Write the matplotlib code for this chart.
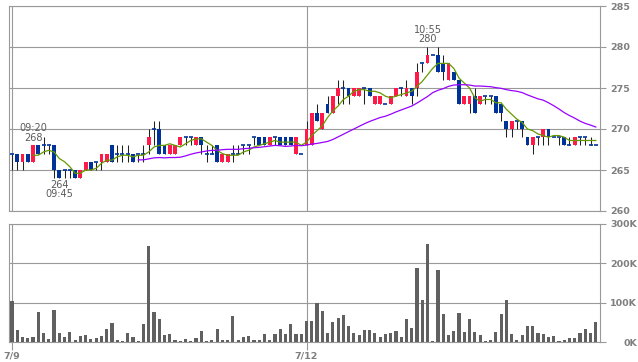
import numpy as np
import pandas as pd
import matplotlib
matplotlib.use('Agg')
import matplotlib.pyplot as plt

# 5-minute candles, 7/9 (i0-55) and 7/12 (i56-111)
opens = [267, 267, 266, 267, 266, 268, 268, 268, 268, 265, 265, 265, 265, 264, 265, 266,
         266, 266, 266, 268, 267, 267, 267, 267, 267, 267, 268, 270, 270, 268, 267, 267,
         268, 269, 269, 268, 269, 267, 267, 268, 266, 266, 267, 267, 268, 268, 269, 269,
         269, 268, 269, 269, 269, 269, 267, 267,
         268, 268, 272, 270, 273, 272, 274, 275, 275, 274, 274, 275, 275, 273, 273, 273,
         273, 274, 275, 274, 275, 275, 278, 278, 279, 279, 278, 276, 277, 276, 273, 273,
         274, 273, 274, 274, 274, 273, 271, 270, 271, 271, 269, 268, 269, 269, 270, 269,
         269, 269, 268, 268, 269, 269, 268, 268]
highs = [267, 267, 267, 267, 268, 268, 269, 268, 268, 265, 265, 265, 265, 265, 266, 266,
         266, 267, 267, 268, 268, 268, 268, 267, 267, 268, 270, 271, 271, 268, 268, 268,
         269, 269, 269, 269, 269, 268, 268, 268, 267, 267, 268, 268, 268, 268, 269, 269,
         269, 269, 269, 269, 269, 269, 269, 267,
         271, 272, 273, 272, 274, 274, 276, 276, 275, 275, 275, 275, 275, 274, 274, 273,
         274, 275, 275, 276, 275, 278, 278, 280, 279, 280, 279, 278, 277, 276, 274, 274,
         275, 274, 274, 274, 274, 273, 271, 271, 271, 271, 269, 269, 269, 270, 270, 269,
         269, 269, 269, 269, 269, 269, 269, 268]
lows = [265, 265, 265, 266, 266, 267, 267, 267, 264, 264, 264, 264, 264, 264, 265, 265,
        265, 265, 266, 266, 266, 266, 266, 266, 266, 266, 267, 268, 267, 267, 267, 267,
        268, 268, 268, 268, 267, 266, 267, 266, 266, 266, 266, 267, 267, 267, 268, 268,
        268, 268, 268, 268, 268, 268, 267, 267,
        268, 268, 271, 270, 272, 272, 273, 273, 273, 274, 274, 273, 274, 273, 273, 273,
        273, 274, 274, 274, 273, 274, 277, 278, 279, 277, 276, 276, 276, 273, 273, 272,
        272, 273, 273, 273, 272, 271, 269, 269, 270, 269, 268, 267, 268, 268, 268, 269,
        268, 268, 268, 268, 268, 268, 268, 268]
closes = [267, 266, 267, 266, 268, 267, 268, 268, 265, 264, 265, 265, 264, 265, 266, 265,
          266, 267, 267, 266, 267, 267, 267, 266, 267, 267, 269, 270, 267, 267, 268, 268,
          269, 269, 269, 269, 268, 267, 267, 266, 267, 267, 267, 267, 268, 268, 269, 268,
          268, 269, 269, 268, 268, 268, 269, 267,
          270, 272, 271, 272, 272, 274, 275, 275, 274, 275, 275, 275, 274, 274, 274, 273,
          274, 275, 275, 275, 274, 277, 278, 279, 279, 277, 277, 278, 276, 273, 274, 274,
          272, 274, 274, 274, 272, 272, 270, 271, 271, 270, 268, 269, 269, 270, 269, 269,
          269, 268, 268, 269, 269, 269, 268, 268]
volume_k = [105, 31, 13, 10, 13, 77, 23, 8, 82, 23, 13, 26, 5, 15, 18, 8,
            10, 15, 33, 49, 5, 3, 23, 13, 3, 46, 244, 77, 59, 18, 21, 5,
            3, 8, 3, 10, 28, 3, 5, 33, 5, 5, 67, 5, 13, 15, 5, 5,
            21, 5, 21, 33, 21, 46, 21, 21,
            54, 54, 100, 79, 23, 50, 60, 68, 40, 23, 18, 30, 30, 23, 13, 20,
            23, 28, 13, 58, 35, 187, 108, 250, 3, 182, 71, 18, 28, 73, 25, 58,
            25, 18, 3, 5, 25, 71, 108, 20, 5, 18, 40, 40, 23, 20, 13, 15,
            3, 5, 10, 10, 23, 33, 23, 50]

day_starts = [0, 56]
day_labels = ['7/9', '7/12']
price_ticks = [260, 265, 270, 275, 280, 285]
vol_ticks = [0, 100, 200, 300]
vol_labels = ['0K', '100K', '200K', '300K']
notes = [(4, 268, '09:20\n268', 'top'), (9, 264, '264\n09:45', 'bottom'),
         (79, 280, '10:55\n280', 'top')]

RED = '#ff1a4a'
BLUE = '#003399'
GRID = '#999999'
LABEL = '#7f7f7f'

df = pd.DataFrame({'o': opens, 'h': highs, 'l': lows, 'c': closes, 'v': volume_k})
x = np.arange(len(df))
ma5 = df['c'].rolling(5).mean()
ma25 = df['c'].rolling(25).mean()

W, H = 638, 362
fig = plt.figure(figsize=(W / 100, H / 100), dpi=100)
ax1 = fig.add_axes([9 / W, 1 - 211 / H, 591 / W, 205 / H])
ax2 = fig.add_axes([9 / W, 1 - 342 / H, 591 / W, 118 / H])

for ax in (ax1, ax2):
    ax.set_xlim(-0.57, 111.8)
    ax.set_xticks(day_starts)
    ax.grid(True, color=GRID, lw=0.8)
    ax.set_axisbelow(True)
    ax.yaxis.tick_right()
    for s in ax.spines.values():
        s.set_color(GRID)
        s.set_linewidth(0.8)
    ax.tick_params(axis='y', length=4.3, width=0.8, color=GRID, labelsize=6.8,
                   labelcolor=LABEL, pad=3)

# candles
ax1.vlines(x, df['l'], df['h'], color='#222222', lw=0.75, zorder=2)
body = df['c'] - df['o']
up = body > 0
dn = body < 0
ax1.bar(x[up], body[up], bottom=df['o'][up], width=0.72, color=RED, zorder=3)
ax1.bar(x[dn], body[dn], bottom=df['o'][dn], width=0.72, color=BLUE, zorder=3)
flat = body == 0
ax1.hlines(df['c'][flat], x[flat] - 0.38, x[flat] + 0.38, color=BLUE, lw=1.2, zorder=3)

ax1.plot(x, ma5, color='#669900', lw=0.9, zorder=4)
ax1.plot(x, ma25, color='#9900ff', lw=0.9, zorder=4)

for i, p, txt, side in notes:
    if side == 'top':
        ax1.text(i, p + 0.35, txt, ha='center', va='bottom', fontsize=7,
                 color='#5a5a5a', linespacing=0.95)
    else:
        ax1.text(i, p - 0.2, txt, ha='center', va='top', fontsize=7,
                 color='#5a5a5a', linespacing=0.95)

ax1.set_ylim(260, 285)
ax1.set_yticks(price_ticks)
ax1.tick_params(axis='x', length=0, labelbottom=False)
for t in ax1.get_yticklabels():
    t.set_fontweight('bold')

# volume
ax2.bar(x, df['v'], width=0.6, color='#606060', zorder=3)
ax2.set_ylim(0, 300)
ax2.set_yticks(vol_ticks)
ax2.set_yticklabels(vol_labels)
ax2.tick_params(axis='y', pad=22.5)
for t in ax2.get_yticklabels():
    t.set_fontweight('bold')
    t.set_horizontalalignment('right')
ax2.set_xticklabels(day_labels)
ax2.tick_params(axis='x', length=5.5, width=0.8, color=GRID, labelsize=6.8,
                labelcolor=LABEL, pad=1)
for t in ax2.get_xticklabels():
    t.set_fontweight('bold')

fig.savefig('out.png', dpi=100)
